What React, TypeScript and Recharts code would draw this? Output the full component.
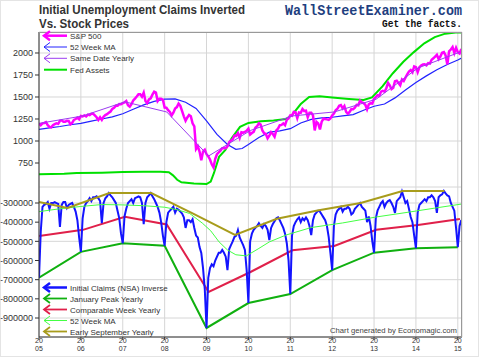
import React from 'react';
import { LineChart, Line, XAxis, YAxis, CartesianGrid } from 'recharts';

const FONT = '"Liberation Sans", Arial, sans-serif';
const NARROW = `"Liberation Sans Narrow", "Arial Narrow", ${FONT}`;
const MONO = '"Liberation Mono", "DejaVu Sans Mono", monospace';

const YEARS = [2005, 2006, 2007, 2008, 2009, 2010, 2011, 2012, 2013, 2014, 2015];
const SPX_TICKS = [750, 1000, 1250, 1500, 1750, 2000];
const CLAIM_TICKS = [-900, -800, -700, -600, -500, -400, -300]; // thousands

// S&P 500, two readings a month from Jan 2005
const spx = [
  1200, 1180, 1200, 1205, 1215, 1180, 1160, 1156, 1180, 1192, 1200, 1195, 1230, 1235, 1220, 1220, 1230, 1228, 1190, 1205, 1240, 1250, 1265, 1248,
  1285, 1280, 1290, 1280, 1300, 1295, 1310, 1310, 1290, 1270, 1240, 1270, 1240, 1276, 1295, 1304, 1320, 1335, 1365, 1378, 1400, 1400, 1420, 1418,
  1430, 1438, 1455, 1406, 1390, 1420, 1460, 1482, 1505, 1530, 1530, 1503, 1550, 1455, 1430, 1473, 1485, 1527, 1560, 1549, 1455, 1481, 1480, 1468,
  1380, 1378, 1350, 1330, 1290, 1322, 1370, 1385, 1425, 1400, 1340, 1280, 1230, 1267, 1295, 1282, 1200, 1166, 910, 940, 880, 780, 880, 900,
  850, 825, 790, 735, 700, 797, 850, 872, 890, 919, 920, 919, 940, 987, 1005, 1020, 1060, 1057, 1090, 1036, 1100, 1095, 1105, 1115,
  1140, 1073, 1090, 1104, 1150, 1169, 1200, 1186, 1120, 1089, 1080, 1030, 1060, 1101, 1080, 1049, 1120, 1141, 1180, 1183, 1200, 1180, 1240, 1257,
  1290, 1286, 1330, 1327, 1260, 1325, 1320, 1363, 1340, 1345, 1270, 1320, 1320, 1292, 1120, 1218, 1200, 1131, 1220, 1253, 1250, 1246, 1240, 1257,
  1290, 1312, 1350, 1366, 1400, 1408, 1370, 1397, 1330, 1310, 1330, 1362, 1360, 1379, 1410, 1406, 1460, 1440, 1430, 1412, 1360, 1416, 1430, 1426,
  1480, 1498, 1520, 1515, 1560, 1569, 1560, 1597, 1660, 1631, 1590, 1606, 1680, 1686, 1660, 1633, 1700, 1682, 1720, 1757, 1790, 1806, 1780, 1848,
  1840, 1783, 1840, 1859, 1870, 1872, 1860, 1884, 1880, 1924, 1940, 1960, 1980, 1931, 1960, 2003, 2010, 1972, 1870, 2018, 2040, 2068, 2000, 2059,
  2010, 1995, 2045,
];

const spxMaDates = [2005, 2005.25, 2005.5, 2005.75, 2006, 2006.25, 2006.5, 2006.75, 2007, 2007.25, 2007.5, 2007.75, 2008, 2008.25, 2008.5, 2008.75, 2009, 2009.25, 2009.5, 2009.7, 2009.85, 2010, 2010.25, 2010.5, 2010.75, 2011, 2011.25, 2011.5, 2011.75, 2012, 2012.25, 2012.5, 2012.75, 2013, 2013.25, 2013.5, 2013.75, 2014, 2014.25, 2014.5, 2014.75, 2015, 2015.1];
const spxMa = [1133, 1150, 1165, 1185, 1200, 1225, 1250, 1275, 1310, 1360, 1410, 1450, 1475, 1478, 1440, 1370, 1230, 1075, 960, 905, 915, 960, 1040, 1100, 1115, 1140, 1205, 1245, 1262, 1270, 1285, 1300, 1350, 1395, 1420, 1490, 1580, 1665, 1740, 1810, 1870, 1920, 1945];

const sameDateDates = [2005, 2006.05, 2007.05, 2008.05, 2009.05, 2010.05, 2011.05, 2012.05, 2013.05, 2014.05, 2015.05];
const sameDate = [1200, 1285, 1445, 1330, 830, 1120, 1285, 1330, 1475, 1830, 2010];

const fedDates = [2005, 2005.6, 2005.9, 2006.5, 2007, 2007.5, 2007.9, 2008.1, 2008.2, 2008.3, 2008.4, 2008.7, 2009, 2009.1, 2009.18, 2009.3, 2009.45, 2009.6, 2009.8, 2010, 2010.3, 2010.6, 2010.9, 2011.05, 2011.25, 2011.45, 2011.7, 2012, 2012.4, 2012.75, 2012.95, 2013.2, 2013.45, 2013.7, 2013.95, 2014.2, 2014.45, 2014.7, 2014.95, 2015.1];
const fedAssets = [622, 628, 636, 640, 648, 652, 650, 645, 610, 560, 530, 518, 511, 540, 640, 820, 900, 1030, 1160, 1205, 1225, 1232, 1250, 1300, 1420, 1500, 1508, 1495, 1478, 1466, 1495, 1620, 1770, 1900, 2010, 2110, 2180, 2220, 2232, 2234];

// initial claims NSA, inverted, thousands, two readings a month from Jan 2005
const claims = [
  -690, -450, -320, -310, -305, -295, -330, -300, -300, -295, -300, -305, -425, -310, -295, -295, -326, -310, -305, -300, -320, -345, -390, -480,
  -555, -380, -320, -300, -290, -275, -290, -270, -270, -265, -275, -290, -405, -300, -275, -265, -248, -260, -270, -285, -300, -340, -380, -460,
  -510, -370, -330, -300, -290, -280, -300, -275, -270, -265, -270, -300, -410, -300, -270, -260, -248, -265, -280, -300, -320, -350, -400, -470,
  -523, -400, -350, -340, -330, -320, -350, -330, -335, -345, -355, -375, -430, -390, -390, -400, -385, -430, -470, -480, -530, -560, -640, -750,
  -952, -690, -640, -620, -630, -600, -580, -560, -560, -545, -560, -580, -650, -540, -520, -500, -477, -470, -441, -480, -500, -520, -545, -650,
  -822, -500, -460, -440, -430, -420, -405, -420, -430, -410, -420, -440, -493, -430, -410, -395, -380, -375, -390, -410, -430, -460, -510, -600,
  -775, -470, -420, -400, -385, -375, -400, -380, -390, -375, -390, -420, -467, -390, -360, -350, -340, -345, -360, -375, -390, -420, -477, -560,
  -650, -420, -360, -340, -330, -320, -345, -330, -330, -320, -330, -360, -352, -330, -320, -310, -300, -320, -330, -340, -400, -370, -420, -500,
  -559, -380, -340, -320, -300, -290, -320, -300, -290, -285, -300, -320, -352, -290, -280, -270, -240, -270, -300, -290, -330, -373, -400, -470,
  -536, -350, -310, -300, -290, -280, -290, -270, -270, -260, -270, -290, -352, -270, -260, -255, -237, -250, -260, -265, -300, -320, -340, -430,
  -531, -420, -389,
];

const janPeakDates = [2005, 2006, 2007, 2008, 2009, 2010, 2011, 2012, 2013, 2014, 2015];
const janPeak = [-690, -555, -510, -523, -952, -822, -775, -650, -559, -536, -531];

const compWeekDates = [2005, 2006.05, 2007.05, 2008.05, 2009.05, 2010.05, 2011.05, 2012.05, 2013.05, 2014.05, 2015.05];
const compWeek = [-472, -440, -372, -412, -764, -660, -547, -524, -440, -415, -383];

const claimsMaDates = [2005, 2005.5, 2006, 2006.5, 2007, 2007.5, 2008, 2008.3, 2008.6, 2008.9, 2009.1, 2009.3, 2009.5, 2009.7, 2009.95, 2010.25, 2010.5, 2010.9, 2011.5, 2012.25, 2013.05, 2013.85, 2014.5, 2015.1];
const claimsMa = [-345, -330, -318, -308, -310, -314, -322, -335, -355, -405, -445, -503, -545, -570, -576, -537, -503, -467, -428, -404, -373, -347, -325, -305];

const septDates = [2005, 2005.68, 2006.68, 2007.68, 2008.68, 2009.68, 2010.68, 2011.68, 2012.68, 2013.68, 2014.68];
const septYearly = [-295, -326, -248, -248, -355, -467, -382, -338, -300, -237, -237];

const halfMonthly = (vals: number[]) => vals.map((v, i) => ({ t: 2005 + i / 24, v }));
const pairs = (ts: number[], vs: number[]) => ts.map((t, i) => ({ t, v: vs[i] }));

// year label split over two lines, "20" above "05"
const YearTick = ({ x, y, payload }: any) => {
  const s = String(payload.value);
  return (
    <g>
      <text x={x} y={y + 3} textAnchor="middle" fontSize={7} fill="#333" fontFamily={FONT}>{s.slice(0, 2)}</text>
      <text x={x} y={y + 11} textAnchor="middle" fontSize={7} fill="#333" fontFamily={FONT}>{s.slice(2)}</text>
    </g>
  );
};

const LegendRow = ({ y, color, label, width = 1, arrow = true }: any) => (
  <g>
    <line x1={44} y1={y - 3} x2={67} y2={y - 3} stroke={color} strokeWidth={width} />
    {arrow && (
      <polyline
        points={`50,${y - 7.5} 44,${y - 3} 50,${y + 1.5}`}
        fill="none"
        stroke={color}
        strokeWidth={width}
      />
    )}
    <text x={70} y={y} fontSize={8} fill="#333" fontFamily={FONT}>{label}</text>
  </g>
);

const lineProps = { dataKey: 'v', dot: false, activeDot: false, isAnimationActive: false };

const App = () => {
  const axisStyle = { stroke: '#333' };
  const tickStyle = { fontSize: 9, fill: '#333', fontFamily: FONT };
  return (
    <div style={{ position: 'absolute', left: 0, top: 0, width: 480, height: 362, background: '#fff' }}>
      <div style={{ position: 'absolute', left: 0, top: 0 }}>
        <LineChart width={480} height={187} margin={{ top: 32, right: 18, bottom: 0, left: 0 }}>
          <CartesianGrid stroke="#d6d6d6" />
          <XAxis type="number" dataKey="t" domain={[2005, 2015.1]} ticks={YEARS} hide allowDataOverflow />
          <YAxis
            type="number"
            domain={[477.3, 2238.6]}
            ticks={SPX_TICKS}
            width={39}
            tickSize={4}
            tickMargin={2}
            allowDataOverflow
            axisLine={axisStyle}
            tickLine={axisStyle}
            tick={tickStyle}
          />
          <Line {...lineProps} data={pairs(fedDates, fedAssets)} stroke="#00e000" strokeWidth={2} />
          <Line {...lineProps} data={pairs(spxMaDates, spxMa)} stroke="#2222ff" strokeWidth={1.2} />
          <Line {...lineProps} data={halfMonthly(spx)} stroke="#ff00ff" strokeWidth={2.5} />
          <Line {...lineProps} data={pairs(sameDateDates, sameDate)} stroke="#9b3cf0" strokeWidth={1} />
        </LineChart>
      </div>
      <div style={{ position: 'absolute', left: 0, top: 187 }}>
        <LineChart width={480} height={175} margin={{ top: 0, right: 18, bottom: 0, left: 0 }}>
          <CartesianGrid stroke="#d6d6d6" />
          <XAxis
            type="number"
            dataKey="t"
            domain={[2005, 2015.1]}
            ticks={YEARS}
            height={25}
            tickSize={3}
            tickMargin={0}
            allowDataOverflow
            axisLine={axisStyle}
            tickLine={axisStyle}
            tick={<YearTick />}
          />
          <YAxis
            type="number"
            domain={[-999.1, -216.5]}
            ticks={CLAIM_TICKS}
            width={39}
            tickSize={4}
            tickMargin={2}
            allowDataOverflow
            axisLine={axisStyle}
            tickLine={axisStyle}
            tick={tickStyle}
            tickFormatter={(v: number) => String(v * 1000)}
          />
          <Line {...lineProps} data={pairs(janPeakDates, janPeak)} stroke="#10b010" strokeWidth={2} />
          <Line {...lineProps} data={pairs(compWeekDates, compWeek)} stroke="#e0204a" strokeWidth={2} />
          <Line {...lineProps} data={halfMonthly(claims)} stroke="#1414ff" strokeWidth={2} />
          <Line {...lineProps} data={pairs(claimsMaDates, claimsMa)} stroke="#44ff44" strokeWidth={1} />
          <Line {...lineProps} data={pairs(septDates, septYearly)} stroke="#a89c1c" strokeWidth={2} />
        </LineChart>
      </div>
      <svg width={480} height={362} style={{ position: 'absolute', left: 0, top: 0, pointerEvents: 'none' }}>
        <rect x={0.5} y={0.5} width={478} height={356} fill="none" stroke="#c8c8c8" strokeDasharray="1 1" />
        <line x1={39} y1={32.5} x2={462} y2={32.5} stroke="#999" />
        <line x1={461.5} y1={32} x2={461.5} y2={337} stroke="#999" />
        <text x={39} y={14} fontFamily={NARROW} fontWeight="bold" fontSize={12} fill="#333" textLength={206} lengthAdjust="spacingAndGlyphs">
          Initial Unemployment Claims Inverted
        </text>
        <text x={39} y={27.5} fontFamily={NARROW} fontWeight="bold" fontSize={12} fill="#333" textLength={90} lengthAdjust="spacingAndGlyphs">
          Vs. Stock Prices
        </text>
        <text x={285} y={15} fontFamily={MONO} fontWeight="bold" fontSize={14} fill="#1f3f7f" textLength={177} lengthAdjust="spacingAndGlyphs">
          WallStreetExaminer.com
        </text>
        <text x={382} y={27} fontFamily={MONO} fontWeight="bold" fontSize={10} fill="#111" textLength={80} lengthAdjust="spacingAndGlyphs">
          Get the facts.
        </text>
        <LegendRow y={38.7} color="#ff00ff" label="S&P 500" width={2.5} />
        <LegendRow y={50} color="#2222ff" label="52 Week MA" />
        <LegendRow y={61.3} color="#9b3cf0" label="Same Date Yearly" />
        <LegendRow y={72.7} color="#00e000" label="Fed Assets" width={2} arrow={false} />
        <LegendRow y={290.5} color="#1414ff" label="Initial Claims (NSA) Inverse" width={2.5} />
        <LegendRow y={301.5} color="#10b010" label="January Peak Yearly" width={1.8} />
        <LegendRow y={312.5} color="#e0204a" label="Comparable Week Yearly" width={1.8} />
        <LegendRow y={323.5} color="#44ff44" label="52 Week MA" />
        <LegendRow y={334.5} color="#a89c1c" label="Early September Yearly" width={1.8} />
        <text x={330} y={332.7} fontSize={8} fill="#444" fontFamily={FONT} textLength={127} lengthAdjust="spacingAndGlyphs">
          Chart generated by Economagic.com
        </text>
      </svg>
    </div>
  );
};

export default App;
